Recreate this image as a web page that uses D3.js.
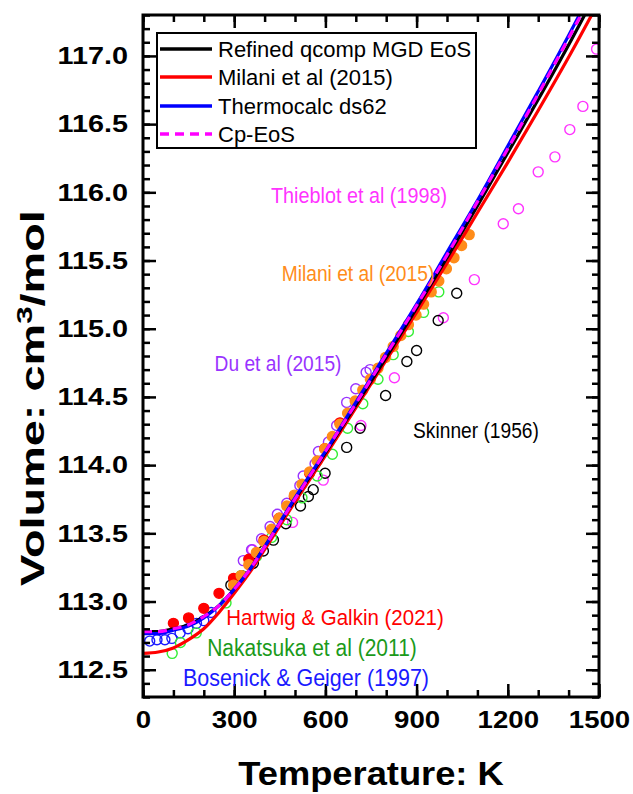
<!DOCTYPE html>
<html><head><meta charset="utf-8">
<script src="https://cdn.jsdelivr.net/npm/d3@7"></script>
<style>body{margin:0;background:#fff}svg{display:block}text{font-family:"Liberation Sans",Arial,sans-serif}</style>
</head><body>
<script>
// ---- data ----
const curveT = [0,50,100,150,200,250,300,350,400,500,600,700,800,900,1000,1100,1200,1300,1400,1500];
const refinedV = [112.78,112.78,112.80,112.83,112.89,112.97,113.09,113.23,113.40,113.75,114.09,114.44,114.79,115.15,115.52,115.90,116.29,116.68,117.08,117.50];
const milaniV  = [112.62,112.63,112.66,112.72,112.80,112.92,113.06,113.21,113.38,113.73,114.07,114.42,114.77,115.12,115.48,115.85,116.22,116.60,116.99,117.40];
const thermoV  = [112.765,112.765,112.79,112.82,112.88,112.97,113.09,113.23,113.40,113.76,114.10,114.46,114.82,115.18,115.56,115.94,116.34,116.74,117.15,117.58];
const cpV      = [112.78,112.78,112.80,112.83,112.89,112.97,113.09,113.23,113.40,113.75,114.10,114.45,114.81,115.17,115.54,115.93,116.32,116.72,117.13,117.55];

const hartwigT = [100,150,200,250,298,348,398,448,498,548,598,648];
const hartwigV = [112.84,112.88,112.95,113.06,113.17,113.31,113.45,113.61,113.77,113.94,114.12,114.31];
const milaniDT = [298,323,348,373,398,423,448,473,498,523,548,573,598,623,648,673,698,723,748,773,798,823,848,873,898,923,948,973,998,1023,1048,1073];
const milaniDV = [113.12,113.19,113.27,113.36,113.44,113.53,113.61,113.70,113.78,113.86,113.95,114.03,114.12,114.21,114.30,114.38,114.47,114.55,114.63,114.71,114.79,114.87,114.95,115.03,115.10,115.18,115.27,115.35,115.44,115.52,115.61,115.69];
const nakaT = [96,123,175,273,323,373,423,473,523,573,623,673,723,773,823,873,923,973];
const nakaV = [112.62,112.70,112.77,112.99,113.19,113.33,113.47,113.60,113.76,113.92,114.08,114.27,114.45,114.63,114.81,114.98,115.12,115.27];
const boseT = [22,46,72,95,122,148,176,200,224];
const boseV = [112.71,112.72,112.72,112.73,112.77,112.80,112.84,112.86,112.92];
const duT = [330,357,390,418,442,473,516,527,566,577,610,637,670,700,734,747];
const duV = [113.30,113.38,113.46,113.55,113.64,113.72,113.85,113.92,114.01,114.10,114.17,114.29,114.46,114.56,114.68,114.70];
const skinT = [289,325,363,396,429,470,518,544,560,599,670,714,798,868,900,971,1032];
const skinV = [113.12,113.19,113.28,113.37,113.45,113.57,113.70,113.77,113.82,113.94,114.13,114.27,114.51,114.76,114.84,115.06,115.26];
const thieT = [360,492,593,717,827,988,1090,1185,1235,1300,1355,1404,1447,1492];
const thieV = [113.38,113.58,113.89,114.29,114.64,115.08,115.36,115.77,115.88,116.15,116.26,116.46,116.63,117.05];

const xTicks = [0,300,600,900,1200,1500];
const yTicks = [112.5,113.0,113.5,114.0,114.5,115.0,115.5,116.0,116.5,117.0];
const legendNames = ["Refined qcomp MGD EoS","Milani et al (2015)","Thermocalc ds62","Cp-EoS"];
const labelNames = ["Thieblot et al (1998)","Milani et al (2015)","Du et al (2015)","Skinner (1956)","Hartwig & Galkin (2021)","Nakatsuka et al (2011)","Bosenick & Geiger (1997)"];

// ---- chart ----
const W=633,H=794, L=143,R=599,T=15,B=697;
const svg = d3.select("body").append("svg").attr("width",W).attr("height",H);
const x = d3.scaleLinear().domain([0,1500]).range([L,R]);
const y = d3.scaleLinear().domain([112.3,117.3]).range([B,T]);

svg.append("defs").append("clipPath").attr("id","clip").append("rect")
  .attr("x",L).attr("y",T).attr("width",R-L).attr("height",B-T);
const plot = svg.append("g").attr("clip-path","url(#clip)");

function pts(Ts,Vs,fill,stroke){
  plot.append("g").selectAll("circle").data(Ts.map((t,i)=>[t,Vs[i]])).join("circle")
    .attr("cx",d=>x(d[0])).attr("cy",d=>y(d[1])).attr("r",5)
    .attr("fill",fill).attr("stroke",stroke).attr("stroke-width",1.4);
}
pts(thieT,thieV,"none","#ff33ff");
pts(skinT,skinV,"none","#000");
pts(duT,duV,"none","#9933ff");
pts(boseT,boseV,"none","#1a1aff");
pts(nakaT,nakaV,"none","#33ee33");
pts(hartwigT,hartwigV,"#ff0000","#ff0000");
pts(milaniDT,milaniDV,"#ff8c1a","#ff8c1a");

const line = d3.line().x(d=>x(d[0])).y(d=>y(d[1])).curve(d3.curveMonotoneX);
function crv(Vs,color,dash){
  plot.append("path").datum(curveT.map((t,i)=>[t,Vs[i]])).attr("d",line)
   .attr("fill","none").attr("stroke",color).attr("stroke-width",3.2)
   .attr("stroke-dasharray",dash||null);
}
crv(milaniV,"#ff0000");
crv(refinedV,"#000000");
crv(thermoV,"#0000ff");
crv(cpV,"#ff00ff","9,6");

// axes
const minorX = d3.range(0,1501,100), minorY = d3.range(112.3,117.31,0.1).map(v=>+v.toFixed(1));
[[d3.axisBottom(x),`translate(0,${B})`,minorX],[d3.axisTop(x),`translate(0,${T})`,minorX],
 [d3.axisLeft(y),`translate(${L},0)`,minorY],[d3.axisRight(y),`translate(${R},0)`,minorY]].forEach(([ax,tr,mn])=>{
  const g1=svg.append("g").attr("transform",tr).call(ax.tickValues(mn).tickSize(-7).tickSizeOuter(0).tickFormat(""));
  g1.select(".domain").remove(); g1.selectAll("line").attr("stroke-width",2.5);
});
const b=svg.append("g").attr("transform",`translate(0,${B})`).call(d3.axisBottom(x).tickValues(xTicks).tickSize(-13).tickSizeOuter(0).tickPadding(14).tickFormat(d3.format("d")));
const t=svg.append("g").attr("transform",`translate(0,${T})`).call(d3.axisTop(x).tickValues(xTicks).tickSize(-13).tickSizeOuter(0).tickFormat(""));
const l=svg.append("g").attr("transform",`translate(${L},0)`).call(d3.axisLeft(y).tickValues(yTicks).tickSize(-13).tickSizeOuter(0).tickPadding(12.5).tickFormat(d3.format(".1f")));
const r=svg.append("g").attr("transform",`translate(${R},0)`).call(d3.axisRight(y).tickValues(yTicks).tickSize(-13).tickSizeOuter(0).tickFormat(""));
[b,t,l,r].forEach(g=>{g.select(".domain").remove(); g.selectAll("line").attr("stroke-width",2.5);
  g.selectAll("text").attr("font-size",24).attr("font-weight","bold").attr("fill","#000")
   .attr("font-family","'Liberation Sans',Arial,sans-serif");});
l.selectAll("text").attr("transform","scale(1.2,1)");
b.selectAll("text").attr("transform","scale(1.15,1)");
svg.append("rect").attr("x",L).attr("y",T).attr("width",R-L).attr("height",B-T)
  .attr("fill","none").attr("stroke","#000").attr("stroke-width",3);

// axis titles
svg.append("text").attr("transform",`translate(${(L+R)/2},785) scale(1.1,1)`)
  .attr("text-anchor","middle").attr("font-size",33).attr("font-weight","bold").text("Temperature: K");
const yt = svg.append("text").attr("transform",`translate(44,398) rotate(-90) scale(1.42,1)`)
  .attr("text-anchor","middle").attr("font-size",33).attr("font-weight","bold");
yt.append("tspan").text("Volume: cm");
yt.append("tspan").attr("font-size",22).attr("dy",-12).text("3");
yt.append("tspan").attr("dy",12).text("/mol");

// legend
const lg = svg.append("g");
lg.append("rect").attr("x",157).attr("y",33).attr("width",319).attr("height",115)
  .attr("fill","#fff").attr("stroke","#000").attr("stroke-width",2);
const lcol=["#000","#ff0000","#0000ff","#ff00ff"], ly=[49,77,106,134];
legendNames.forEach((n,i)=>{
  lg.append("line").attr("x1",160).attr("x2",212).attr("y1",ly[i]).attr("y2",ly[i])
   .attr("stroke",lcol[i]).attr("stroke-width",3.5).attr("stroke-dasharray",i==3?"9,6":null);
  lg.append("text").attr("x",218).attr("y",ly[i]).attr("dy","0.36em").attr("font-size",22).text(n);
});

// series labels
const labPos=[[359,195,"#ff33ff",19.8],[358,273,"#ff8c1a",19.2],[278,363,"#9933ff",19.2],[476,430,"#000",19.2],[335,617,"#ff0000",20.5],[312,648,"#1a9a1a",21],[306,677,"#1a1aff",21.5]];
labelNames.forEach((n,i)=>{
  svg.append("text").attr("transform",`translate(${labPos[i][0]},${labPos[i][1]}) scale(1,1.12)`).attr("dy","0.36em")
   .attr("text-anchor","middle").attr("font-size",labPos[i][3]).attr("fill",labPos[i][2]).text(n);
});
</script>
</body></html>
